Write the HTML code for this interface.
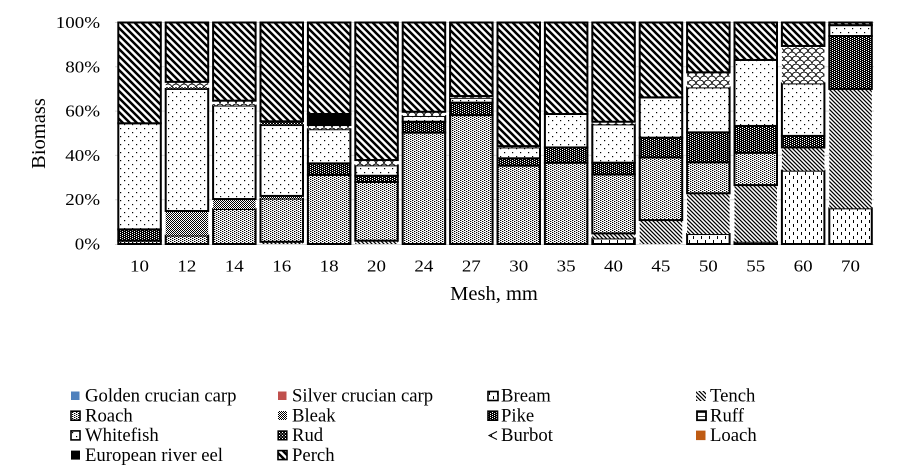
<!DOCTYPE html>
<html>
<head>
<meta charset="utf-8">
<style>
html,body{margin:0;padding:0;background:#fff;}
svg{display:block;}
text{font-family:"Liberation Serif","Times New Roman",serif;fill:#000;}
</style>
</head>
<body>
<svg width="897" height="474" viewBox="0 0 897 474" xmlns="http://www.w3.org/2000/svg">
<defs>
  <pattern id="roach" width="4" height="2" patternUnits="userSpaceOnUse">
    <rect width="4" height="2" fill="#fff"/>
    <rect x="0" y="0" width="1.3" height="1" fill="#000"/>
    <rect x="2" y="1" width="1.3" height="1" fill="#000"/>
  </pattern>
  <pattern id="white" width="8" height="8" patternUnits="userSpaceOnUse">
    <rect width="8" height="8" fill="#fff"/>
    <rect x="0" y="0" width="1.2" height="1.2" fill="#000"/>
    <rect x="4" y="4" width="1.2" height="1.2" fill="#000"/>
  </pattern>
  <pattern id="pike" width="4" height="2" patternUnits="userSpaceOnUse">
    <rect width="4" height="2" fill="#000"/>
    <rect x="0" y="0" width="1" height="1" fill="#fff"/>
    <rect x="2" y="1" width="1" height="1" fill="#fff"/>
  </pattern>
  <pattern id="rud" width="3" height="3" patternUnits="userSpaceOnUse">
    <rect width="3" height="3" fill="#000"/>
    <rect x="0" y="0" width="1" height="1" fill="#fff"/>
    <rect x="1.5" y="1.5" width="1" height="1" fill="#fff"/>
  </pattern>
  <pattern id="bleak" width="2" height="2" patternUnits="userSpaceOnUse">
    <rect width="2" height="2" fill="#fff"/>
    <rect x="0" y="0" width="1" height="1" fill="#000"/>
    <rect x="1" y="1" width="1" height="1" fill="#000"/>
  </pattern>
  <pattern id="tench" width="4" height="4" patternUnits="userSpaceOnUse">
    <rect width="4" height="4" fill="#fff"/>
    <path d="M-1,-1 L5,5 M-1,3 L1,5 M3,-1 L5,1" stroke="#000" stroke-width="1.25"/>
  </pattern>
  <pattern id="perch" width="7" height="7" patternUnits="userSpaceOnUse">
    <rect width="7" height="7" fill="#fff"/>
    <path d="M-1,-1 L8,8 M-1,6 L1,8 M6,-1 L8,1" stroke="#000" stroke-width="2.5"/>
  </pattern>
  <pattern id="burbot" width="8" height="8" patternUnits="userSpaceOnUse">
    <rect width="8" height="8" fill="#fff"/>
    <path d="M0,4 A4,4 0 0,1 8,4 M-4,8 A4,4 0 0,1 4,8 M4,8 A4,4 0 0,1 12,8 M-4,0 A4,4 0 0,1 4,0 M4,0 A4,4 0 0,1 12,0" stroke="#000" stroke-width="0.9" fill="none"/>
  </pattern>
  <pattern id="bream" width="8" height="8" patternUnits="userSpaceOnUse">
    <rect width="8" height="8" fill="#fff"/>
    <rect x="1" y="0" width="1" height="3" fill="#000"/>
    <rect x="5" y="4" width="1" height="3" fill="#000"/>
  </pattern>
  <pattern id="ruff" width="4" height="4" patternUnits="userSpaceOnUse">
    <rect width="4" height="4" fill="#fff"/>
    <rect x="0" y="0" width="4" height="0.8" fill="#000"/>
  </pattern>
</defs>

<!-- gridlines -->
<g stroke="#D9D9D9" stroke-width="1">
  <line x1="115" y1="22.5" x2="874" y2="22.5"/>
  <line x1="115" y1="66.8" x2="874" y2="66.8"/>
  <line x1="115" y1="111.1" x2="874" y2="111.1"/>
  <line x1="115" y1="155.4" x2="874" y2="155.4"/>
  <line x1="115" y1="199.7" x2="874" y2="199.7"/>
  <line x1="115" y1="244.5" x2="874" y2="244.5"/>
</g>

<!-- bars -->
<g stroke="#000" stroke-width="2">
  <!-- 10 -->
  <rect x="118.3" y="240.68" width="42.5" height="3.32" fill="url(#roach)"/>
  <rect x="118.3" y="229.38" width="42.5" height="11.30" fill="url(#pike)"/>
  <rect x="118.3" y="123.28" width="42.5" height="106.10" fill="url(#white)"/>
  <rect x="118.3" y="22.5" width="42.5" height="100.78" fill="url(#perch)"/>
  <!-- 12 -->
  <rect x="165.7" y="235.58" width="42.5" height="8.42" fill="url(#roach)"/>
  <rect x="165.7" y="211.00" width="42.5" height="24.59" fill="url(#bleak)" stroke="none"/>
  <rect x="165.7" y="88.95" width="42.5" height="122.05" fill="url(#white)"/>
  <rect x="165.7" y="87.18" width="42.5" height="1.77" fill="url(#rud)" stroke="none"/>
  <rect x="165.7" y="81.86" width="42.5" height="5.32" fill="url(#burbot)" stroke="none"/>
  <rect x="165.7" y="22.5" width="42.5" height="59.36" fill="url(#perch)"/>
  <!-- 14 -->
  <rect x="213.1" y="209.00" width="42.5" height="35.00" fill="url(#roach)"/>
  <rect x="213.1" y="199.04" width="42.5" height="9.97" fill="url(#bleak)" stroke="none"/>
  <rect x="213.1" y="105.56" width="42.5" height="93.47" fill="url(#white)"/>
  <rect x="213.1" y="100.69" width="42.5" height="4.87" fill="url(#burbot)" stroke="none"/>
  <rect x="213.1" y="22.5" width="42.5" height="78.19" fill="url(#perch)"/>
  <!-- 16 -->
  <rect x="260.5" y="241.79" width="42.5" height="2.21" fill="url(#tench)" stroke="none"/>
  <rect x="260.5" y="198.59" width="42.5" height="43.19" fill="url(#roach)"/>
  <rect x="260.5" y="195.93" width="42.5" height="2.66" fill="url(#bleak)" stroke="none"/>
  <rect x="260.5" y="125.05" width="42.5" height="70.88" fill="url(#white)"/>
  <rect x="260.5" y="121.29" width="42.5" height="3.77" fill="url(#rud)" stroke="none"/>
  <rect x="260.5" y="22.5" width="42.5" height="98.79" fill="url(#perch)"/>
  <!-- 18 -->
  <rect x="307.9" y="174.89" width="42.5" height="69.11" fill="url(#roach)"/>
  <rect x="307.9" y="163.37" width="42.5" height="11.52" fill="url(#pike)"/>
  <rect x="307.9" y="129.26" width="42.5" height="34.11" fill="url(#white)"/>
  <rect x="307.9" y="125.05" width="42.5" height="4.21" fill="url(#burbot)" stroke="none"/>
  <rect x="307.9" y="113.98" width="42.5" height="11.08" fill="#000"/>
  <rect x="307.9" y="22.5" width="42.5" height="91.48" fill="url(#perch)"/>
  <!-- 20 -->
  <rect x="355.3" y="240.68" width="42.5" height="3.32" fill="url(#tench)" stroke="none"/>
  <rect x="355.3" y="181.98" width="42.5" height="58.70" fill="url(#roach)"/>
  <rect x="355.3" y="175.78" width="42.5" height="6.20" fill="url(#pike)"/>
  <rect x="355.3" y="165.37" width="42.5" height="10.41" fill="url(#white)"/>
  <rect x="355.3" y="160.05" width="42.5" height="5.32" fill="url(#burbot)" stroke="none"/>
  <rect x="355.3" y="22.5" width="42.5" height="137.55" fill="url(#perch)"/>
  <!-- 24 -->
  <rect x="402.7" y="132.59" width="42.5" height="111.41" fill="url(#roach)"/>
  <rect x="402.7" y="121.73" width="42.5" height="10.85" fill="url(#pike)"/>
  <rect x="402.7" y="115.97" width="42.5" height="5.76" fill="url(#white)"/>
  <rect x="402.7" y="111.77" width="42.5" height="4.21" fill="url(#burbot)" stroke="none"/>
  <rect x="402.7" y="22.5" width="42.5" height="89.27" fill="url(#perch)"/>
  <!-- 27 -->
  <rect x="450.1" y="115.09" width="42.5" height="128.91" fill="url(#roach)"/>
  <rect x="450.1" y="102.68" width="42.5" height="12.40" fill="url(#pike)"/>
  <rect x="450.1" y="97.81" width="42.5" height="4.87" fill="url(#white)"/>
  <rect x="450.1" y="96.04" width="42.5" height="1.77" fill="url(#burbot)" stroke="none"/>
  <rect x="450.1" y="22.5" width="42.5" height="73.54" fill="url(#perch)"/>
  <!-- 30 -->
  <rect x="497.5" y="165.59" width="42.5" height="78.41" fill="url(#roach)"/>
  <rect x="497.5" y="158.28" width="42.5" height="7.31" fill="url(#pike)"/>
  <rect x="497.5" y="147.43" width="42.5" height="10.85" fill="url(#white)"/>
  <rect x="497.5" y="146.10" width="42.5" height="1.33" fill="url(#burbot)" stroke="none"/>
  <rect x="497.5" y="22.5" width="42.5" height="123.60" fill="url(#perch)"/>
  <!-- 35 -->
  <rect x="544.9" y="162.71" width="42.5" height="81.29" fill="url(#roach)"/>
  <rect x="544.9" y="147.43" width="42.5" height="15.28" fill="url(#pike)"/>
  <rect x="544.9" y="113.98" width="42.5" height="33.45" fill="url(#white)"/>
  <rect x="544.9" y="22.5" width="42.5" height="91.48" fill="url(#perch)"/>
  <!-- 40 -->
  <rect x="592.3" y="238.46" width="42.5" height="5.54" fill="url(#bream)"/>
  <rect x="592.3" y="233.37" width="42.5" height="5.09" fill="url(#tench)" stroke="none"/>
  <rect x="592.3" y="174.45" width="42.5" height="58.92" fill="url(#roach)"/>
  <rect x="592.3" y="162.71" width="42.5" height="11.74" fill="url(#pike)"/>
  <rect x="592.3" y="124.39" width="42.5" height="38.32" fill="url(#white)"/>
  <rect x="592.3" y="121.73" width="42.5" height="2.66" fill="url(#burbot)" stroke="none"/>
  <rect x="592.3" y="22.5" width="42.5" height="99.23" fill="url(#perch)"/>
  <!-- 45 -->
  <rect x="639.7" y="220.08" width="42.5" height="23.92" fill="url(#tench)" stroke="none"/>
  <rect x="639.7" y="157.39" width="42.5" height="62.68" fill="url(#roach)"/>
  <rect x="639.7" y="137.68" width="42.5" height="19.71" fill="url(#pike)"/>
  <rect x="639.7" y="97.37" width="42.5" height="40.31" fill="url(#white)"/>
  <rect x="639.7" y="22.5" width="42.5" height="74.87" fill="url(#perch)"/>
  <!-- 50 -->
  <rect x="687.1" y="234.03" width="42.5" height="9.97" fill="url(#bream)"/>
  <rect x="687.1" y="193.28" width="42.5" height="40.76" fill="url(#tench)" stroke="none"/>
  <rect x="687.1" y="162.27" width="42.5" height="31.01" fill="url(#roach)"/>
  <rect x="687.1" y="132.36" width="42.5" height="29.90" fill="url(#pike)"/>
  <rect x="687.1" y="87.40" width="42.5" height="44.96" fill="url(#white)"/>
  <rect x="687.1" y="72.34" width="42.5" height="15.06" fill="url(#burbot)" stroke="none"/>
  <rect x="687.1" y="22.5" width="42.5" height="49.84" fill="url(#perch)"/>
  <!-- 55 -->
  <rect x="734.5" y="241.79" width="42.5" height="2.21" fill="url(#bream)"/>
  <rect x="734.5" y="185.08" width="42.5" height="56.70" fill="url(#tench)" stroke="none"/>
  <rect x="734.5" y="152.74" width="42.5" height="32.34" fill="url(#roach)"/>
  <rect x="734.5" y="125.94" width="42.5" height="26.80" fill="url(#pike)"/>
  <rect x="734.5" y="59.93" width="42.5" height="66.01" fill="url(#white)"/>
  <rect x="734.5" y="22.5" width="42.5" height="37.43" fill="url(#perch)"/>
  <!-- 60 -->
  <rect x="781.9" y="170.68" width="42.5" height="73.32" fill="url(#bream)"/>
  <rect x="781.9" y="147.43" width="42.5" height="23.26" fill="url(#tench)" stroke="none"/>
  <rect x="781.9" y="135.91" width="42.5" height="11.52" fill="url(#pike)"/>
  <rect x="781.9" y="83.41" width="42.5" height="52.50" fill="url(#white)"/>
  <rect x="781.9" y="45.98" width="42.5" height="37.43" fill="url(#burbot)" stroke="none"/>
  <rect x="781.9" y="22.5" width="42.5" height="23.48" fill="url(#perch)"/>
  <!-- 70 -->
  <rect x="829.3" y="208.34" width="42.5" height="35.66" fill="url(#bream)"/>
  <rect x="829.3" y="88.95" width="42.5" height="119.39" fill="url(#tench)" stroke="none"/>
  <rect x="829.3" y="36.01" width="42.5" height="52.94" fill="url(#pike)"/>
  <rect x="829.3" y="25.16" width="42.5" height="10.85" fill="url(#white)"/>
  <rect x="829.3" y="22.5" width="42.5" height="2.66" fill="url(#perch)"/>
</g>

<!-- y tick labels -->
<g font-size="16.5" text-anchor="end">
  <text transform="translate(100,28) scale(1.15,1)">100%</text>
  <text transform="translate(100,72.3) scale(1.15,1)">80%</text>
  <text transform="translate(100,116.6) scale(1.15,1)">60%</text>
  <text transform="translate(100,160.9) scale(1.15,1)">40%</text>
  <text transform="translate(100,205.2) scale(1.15,1)">20%</text>
  <text transform="translate(100,249.5) scale(1.15,1)">0%</text>
</g>

<!-- x tick labels -->
<g font-size="16.5" text-anchor="middle">
  <text transform="translate(139.5,271.5) scale(1.15,1)">10</text>
  <text transform="translate(186.9,271.5) scale(1.15,1)">12</text>
  <text transform="translate(234.3,271.5) scale(1.15,1)">14</text>
  <text transform="translate(281.7,271.5) scale(1.15,1)">16</text>
  <text transform="translate(329.1,271.5) scale(1.15,1)">18</text>
  <text transform="translate(376.5,271.5) scale(1.15,1)">20</text>
  <text transform="translate(423.9,271.5) scale(1.15,1)">24</text>
  <text transform="translate(471.3,271.5) scale(1.15,1)">27</text>
  <text transform="translate(518.7,271.5) scale(1.15,1)">30</text>
  <text transform="translate(566.1,271.5) scale(1.15,1)">35</text>
  <text transform="translate(613.5,271.5) scale(1.15,1)">40</text>
  <text transform="translate(660.9,271.5) scale(1.15,1)">45</text>
  <text transform="translate(708.3,271.5) scale(1.15,1)">50</text>
  <text transform="translate(755.7,271.5) scale(1.15,1)">55</text>
  <text transform="translate(803.1,271.5) scale(1.15,1)">60</text>
  <text transform="translate(850.5,271.5) scale(1.15,1)">70</text>
</g>

<!-- axis titles -->
<text x="494" y="300" font-size="20.5" text-anchor="middle">Mesh, mm</text>
<text transform="translate(45,133.5) rotate(-90)" font-size="20.5" text-anchor="middle">Biomass</text>

<!-- legend -->
<g font-size="18.7">
  <!-- row 1 -->
  <rect x="71" y="391.5" width="8.5" height="8.5" fill="#4F81BD"/>
  <text x="85" y="401.7">Golden crucian carp</text>
  <rect x="278" y="391.5" width="8.5" height="8.5" fill="#C0504D"/>
  <text x="292" y="401.7">Silver crucian carp</text>
  <rect x="488" y="391.5" width="10" height="9" fill="url(#bream)" stroke="#000" stroke-width="1.6"/>
  <text x="501" y="401.7">Bream</text>
  <rect x="696" y="391" width="10" height="10" fill="url(#tench)"/>
  <text x="710" y="401.7">Tench</text>
  <!-- row 2 -->
  <rect x="71" y="411.2" width="9" height="9" fill="url(#roach)" stroke="#000" stroke-width="1.6"/>
  <text x="85" y="421.4">Roach</text>
  <rect x="278" y="411" width="9" height="9" fill="url(#bleak)"/>
  <text x="292" y="421.4">Bleak</text>
  <rect x="488" y="411.2" width="9.5" height="9" fill="url(#pike)" stroke="#000" stroke-width="1.6"/>
  <text x="501" y="421.4">Pike</text>
  <rect x="697" y="411.2" width="9" height="9" fill="url(#ruff)" stroke="#000" stroke-width="1.8"/>
  <text x="710" y="421.4">Ruff</text>
  <!-- row 3 -->
  <rect x="71" y="430.9" width="9" height="9" fill="url(#white)" stroke="#000" stroke-width="1.6"/>
  <text x="85" y="441.1">Whitefish</text>
  <rect x="278" y="430.9" width="9" height="9" fill="url(#rud)" stroke="#000" stroke-width="1.2"/>
  <text x="292" y="441.1">Rud</text>
  <path d="M497,431.5 L489,435.5 L497,439.5 M491,434 L492,437" stroke="#000" stroke-width="1" fill="none"/>
  <text x="501" y="441.1">Burbot</text>
  <rect x="696" y="430.6" width="9.5" height="9.5" fill="#BF5B13"/>
  <text x="710" y="441.1">Loach</text>
  <!-- row 4 -->
  <rect x="71" y="450.6" width="9" height="9" fill="#000"/>
  <text x="85" y="460.8">European river eel</text>
  <rect x="278" y="450.6" width="9" height="9" fill="url(#perch)" stroke="#000" stroke-width="1.6"/>
  <text x="292" y="460.8">Perch</text>
</g>
</svg>
</body>
</html>
